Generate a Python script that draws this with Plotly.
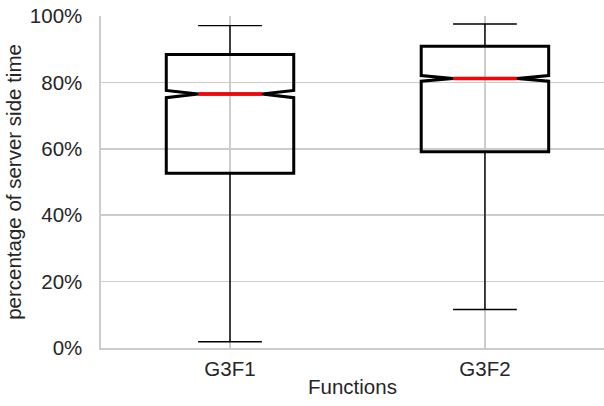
import plotly.graph_objects as go

categories = ["G3F1", "G3F2"]
q1 = [52.6, 59.1]
median = [76.5, 81.2]
q3 = [88.4, 90.9]
lower = [1.9, 11.6]
upper = [97.1, 97.6]
notch = [1.1, 0.85]
ytick_vals = [0, 20, 40, 60, 80, 100]
ytick_text = ["0%", "20%", "40%", "60%", "80%", "100%"]

xpos = list(range(len(categories)))
BOX_W = 0.5
NOTCH_W = 0.25
FONT = "Liberation Sans, Arial, sans-serif"
TXT = "#262626"
GRID = "#cccccc"

fig = go.Figure()
# thin whiskers (full box, thin lines)
fig.add_trace(go.Box(
    x=xpos, q1=q1, median=median, q3=q3, lowerfence=lower, upperfence=upper,
    notched=True, notchspan=notch, notchwidth=NOTCH_W, width=BOX_W,
    whiskerwidth=0.5, line=dict(color="black", width=1.4),
    fillcolor="rgba(0,0,0,0)", boxpoints=False, hoverinfo="skip", showlegend=False,
))
# thick box body
fig.add_trace(go.Box(
    x=xpos, q1=q1, median=median, q3=q3, lowerfence=q1, upperfence=q3,
    notched=True, notchspan=notch, notchwidth=NOTCH_W, width=BOX_W,
    whiskerwidth=0.0, line=dict(color="black", width=3),
    fillcolor="rgba(0,0,0,0)", boxpoints=False, hoverinfo="skip", showlegend=False,
))
# red medians
half = BOX_W / 2 * (1 - 2 * NOTCH_W)
for xi, m in zip(xpos, median):
    fig.add_trace(go.Scatter(
        x=[xi - half, xi + half], y=[m, m], mode="lines",
        line=dict(color="#ff0000", width=3.5), hoverinfo="skip", showlegend=False,
    ))

fig.update_layout(
    width=604, height=406,
    margin=dict(l=101, r=0, t=16, b=58),
    paper_bgcolor="white", plot_bgcolor="white",
    boxmode="overlay",
    font=dict(family=FONT, size=20.5, color=TXT),
    showlegend=False,
)
fig.update_xaxes(
    range=[-0.506, 1.467], tickvals=xpos, ticktext=categories,
    showgrid=True, gridcolor=GRID, gridwidth=1.6, zeroline=False,
    showline=True, linecolor=GRID, linewidth=1.6,
    ticks="outside", ticklen=2, tickcolor="rgba(0,0,0,0)",
    title=dict(text="Functions", standoff=0, font=dict(size=20.5, color=TXT)),
    tickfont=dict(size=20.5, color=TXT),
)
fig.update_yaxes(
    range=[0, 100], tickvals=ytick_vals, ticktext=ytick_text,
    showgrid=True, gridcolor=GRID, gridwidth=1.6, zeroline=False,
    showline=True, linecolor=GRID, linewidth=1.6,
    ticks="outside", ticklen=13, tickcolor="rgba(0,0,0,0)",
    title=dict(text="percentage of server side time", standoff=2, font=dict(size=20.5, color=TXT)),
    tickfont=dict(size=20.5, color=TXT),
)

fig.write_html(
    "out.html",
    config={"displayModeBar": False, "staticPlot": True},
    post_script="document.body.style.margin='0';document.body.style.overflow='hidden';",
)
